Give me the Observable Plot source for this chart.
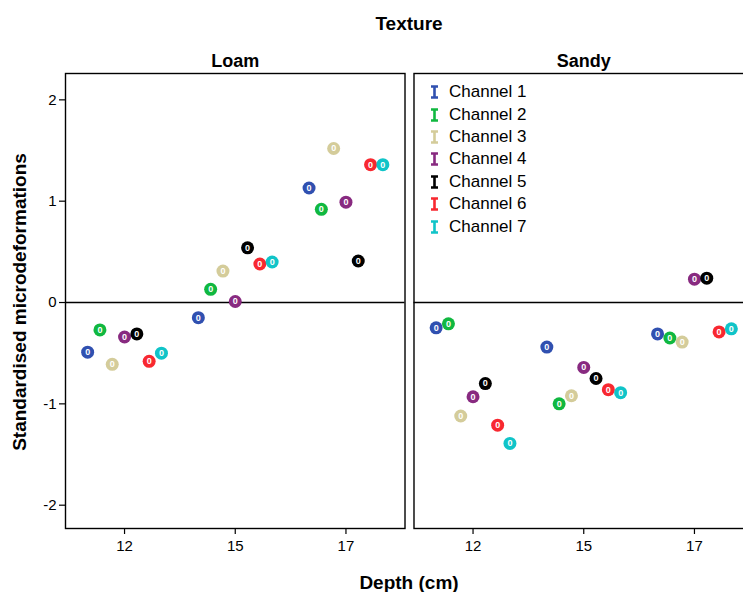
<!DOCTYPE html>
<html>
<head>
<meta charset="utf-8">
<script src="https://cdn.jsdelivr.net/npm/d3@7"></script>
<script src="https://cdn.jsdelivr.net/npm/@observablehq/plot@0.6"></script>
<style>
  body { margin: 0; background: #fff; overflow: hidden; }
  #wrap { position: relative; width: 743px; height: 592px; overflow: hidden; font-family: "Liberation Sans", Arial, sans-serif; }
  #chart svg { max-width: none !important; }
  .title { position: absolute; font-weight: bold; font-size: 19px; color: #000; white-space: nowrap; transform: translate(-50%, -50%); line-height: 1; }
  #ytitle { transform: translate(-50%, -50%) rotate(-90deg); }
  #legend { position: absolute; left: 430px; top: 81px; font-size: 17px; }
  #legend .row { height: 22.4px; display: flex; align-items: center; }
  #legend svg { margin-right: 10px; }
</style>
</head>
<body>
<div id="wrap">
  <div class="title" style="left:409px; top:23px;">Texture</div>
  <div class="title" style="left:409px; top:582px;">Depth (cm)</div>
  <div class="title" id="ytitle" style="left:19px; top:302px;">Standardised microdeformations</div>
  <div id="chart"></div>
  <div id="legend"></div>
</div>
<script>
const textures = ["Loam", "Sandy"];
const depths = ["12", "15", "17"];
const channels = ["Channel 1", "Channel 2", "Channel 3", "Channel 4", "Channel 5", "Channel 6", "Channel 7"];
const channelColors = ["#3050b0", "#10b840", "#d4cc9a", "#882a80", "#000000", "#f82830", "#10c4c8"];

// values per texture and depth, in channel order 1..7
const loam12 = [-0.49, -0.27, -0.61, -0.34, -0.31, -0.58, -0.50];
const loam15 = [-0.15, 0.13, 0.31, 0.01, 0.54, 0.38, 0.40];
const loam17 = [1.13, 0.92, 1.52, 0.99, 0.41, 1.36, 1.36];
const sandy12 = [-0.25, -0.21, -1.12, -0.93, -0.80, -1.21, -1.39];
const sandy15 = [-0.44, -1.00, -0.92, -0.64, -0.75, -0.86, -0.89];
const sandy17 = [-0.31, -0.35, -0.39, 0.23, 0.24, -0.29, -0.26];

const yTicks = [-2, -1, 0, 1, 2];

const series = {
  Loam: [loam12, loam15, loam17],
  Sandy: [sandy12, sandy15, sandy17]
};

const data = [];
for (const t of textures) {
  series[t].forEach((vals, di) => {
    vals.forEach((v, ci) => {
      data.push({texture: t, depth: depths[di], channel: channels[ci], key: depths[di] + "|" + channels[ci], value: v});
    });
  });
}

// x domain: channels dodged within each depth, two empty slots between depths
const xDomain = [];
depths.forEach((d, i) => {
  channels.forEach(c => xDomain.push(d + "|" + c));
  if (i < depths.length - 1) { xDomain.push("gap" + i + "a"); xDomain.push("gap" + i + "b"); }
});
const tickKeys = depths.map(d => d + "|" + channels[3]);

const chart = Plot.plot({
  width: 760,
  height: 592,
  marginTop: 73,
  marginBottom: 64,
  marginLeft: 65,
  marginRight: 7,
  style: {fontFamily: "Liberation Sans, Arial, sans-serif", color: "#000", background: "transparent", maxWidth: "none"},
  fx: {domain: textures, paddingInner: 0.0258, paddingOuter: 0, round: false},
  x: {type: "point", domain: xDomain, padding: 1.8, round: false},
  y: {domain: [-2.23, 2.26]},
  color: {domain: channels, range: channelColors},
  marks: [
    Plot.frame({stroke: "#000", strokeWidth: 1.4}),
    Plot.ruleY([0], {stroke: "#000", strokeWidth: 1.4}),
    Plot.axisY({ticks: yTicks, tickFormat: d => String(d), tickSize: 6, tickPadding: 3, fontSize: 15, label: null, strokeWidth: 1.2}),
    Plot.axisX({ticks: tickKeys, tickFormat: k => k.split("|")[0], tickSize: 6, tickPadding: 6, fontSize: 15, label: null, strokeWidth: 1.2}),
    Plot.axisFx({anchor: "top", tickSize: 0, tickPadding: 7, fontSize: 18, fontWeight: "bold", label: null}),
    Plot.dot(data, {x: "key", y: "value", fx: "texture", fill: "channel", r: 6.5}),
    Plot.text(data, {x: "key", y: "value", fx: "texture", text: () => "0", fill: "white", fontSize: 9, fontWeight: "bold"})
  ]
});
document.getElementById("chart").appendChild(chart);

// legend
const legend = document.getElementById("legend");
channels.forEach((c, i) => {
  const row = document.createElement("div");
  row.className = "row";
  row.innerHTML = `<svg width="9" height="14"><path d="M1,1.5H8M4.5,1.5V12.5M1,12.5H8" stroke="${channelColors[i]}" stroke-width="2.6" fill="none"/></svg><span>${c}</span>`;
  legend.appendChild(row);
});
</script>
</body>
</html>
